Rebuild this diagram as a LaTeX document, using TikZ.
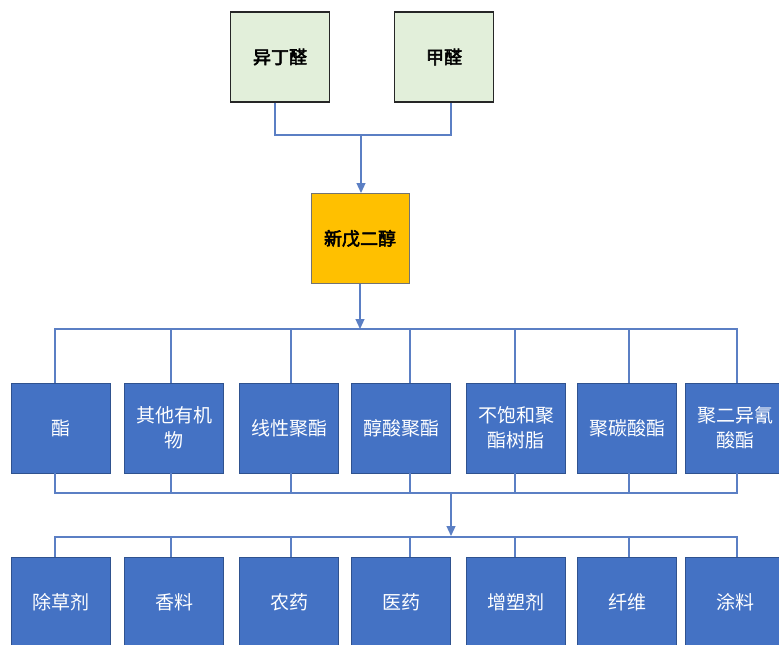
\documentclass[tikz,border=0pt]{standalone}
\usepackage{fontspec}
\newfontfamily\cjk{Noto Sans CJK SC}
\newfontfamily\cjkb[FakeBold=3]{Noto Sans CJK SC}
\usetikzlibrary{arrows.meta}
\definecolor{boxblue}{HTML}{4472C4}
\definecolor{boxedge}{HTML}{2F528F}
\definecolor{lineblue}{HTML}{5B7FC4}
\definecolor{paleg}{HTML}{E2EFDA}
\definecolor{gold}{HTML}{FFC000}
\tikzset{
  srcbox/.style={draw=black!85, line width=1.4pt, fill=paleg, minimum width=99pt, minimum height=90pt, inner sep=0pt, font=\cjkb\fontsize{18}{21}\selectfont},
  midbox/.style={draw=black!55, line width=1pt, fill=gold, minimum width=98pt, minimum height=90pt, inner sep=0pt, font=\cjkb\fontsize{18}{21}\selectfont},
  usebox/.style={draw=boxedge, line width=0.8pt, fill=boxblue, text=white, minimum width=99pt, minimum height=90pt, inner sep=0pt, align=center, font=\cjk\fontsize{19}{25}\selectfont},
  conn/.style={draw=lineblue, line width=1.2pt},
  arr/.style={conn, -{Triangle[width=9pt,length=10pt]}}
}
\begin{document}
\begin{tikzpicture}[x=1pt,y=-1pt]
\useasboundingbox (0,0) rectangle (779,645);
\fill[white] (0,0) rectangle (779,645);
% top sources
\node[srcbox] (a1) at (280,57) {异丁醛};
\node[srcbox] (a2) at (444,57) {甲醛};
\node[midbox] (n) at (360,238.5) {新戊二醇};
% row 2
\node[usebox] (b1) at (61,428) {酯};
\node[usebox] (b2) at (174,428) {其他有机\\物};
\node[usebox] (b3) at (289,428) {线性聚酯};
\node[usebox] (b4) at (401,428) {醇酸聚酯};
\node[usebox] (b5) at (516,428) {不饱和聚\\酯树脂};
\node[usebox] (b6) at (627,428) {聚碳酸酯};
\node[usebox] (b7) at (735,428) {聚二异氰\\酸酯};
% row 3
\node[usebox] (c1) at (61,602) {除草剂};
\node[usebox] (c2) at (174,602) {香料};
\node[usebox] (c3) at (289,602) {农药};
\node[usebox] (c4) at (401,602) {医药};
\node[usebox] (c5) at (516,602) {增塑剂};
\node[usebox] (c6) at (627,602) {纤维};
\node[usebox] (c7) at (735,602) {涂料};
% bus coordinates
\coordinate (t1) at (361,135);
\coordinate (bus1) at (361,329);
\coordinate (bus2) at (451,493);
\coordinate (bus3) at (451,537);
% top merge
\draw[conn] ([xshift=-5pt]a1.south) -- ([xshift=-5pt]a1.south |- t1) -- ([xshift=7pt]a2.south |- t1) -- ([xshift=7pt]a2.south);
\draw[arr] (t1) -- (t1 |- n.north);
% split to row 2
\draw[arr] (n.south) -- (n.south |- bus1);
\draw[conn] ([xshift=-6pt]b1.north) -- ([xshift=-6pt]b1.north |- bus1) -- ([xshift=2pt]b7.north |- bus1) -- ([xshift=2pt]b7.north);
\draw[conn] ([xshift=-3pt]b2.north) -- ([xshift=-3pt]b2.north |- bus1);
\draw[conn] ([xshift=2pt]b3.north) -- ([xshift=2pt]b3.north |- bus1);
\draw[conn] ([xshift=9pt]b4.north) -- ([xshift=9pt]b4.north |- bus1);
\draw[conn] ([xshift=-1pt]b5.north) -- ([xshift=-1pt]b5.north |- bus1);
\draw[conn] ([xshift=2pt]b6.north) -- ([xshift=2pt]b6.north |- bus1);
% merge row 2
\draw[conn] ([xshift=-6pt]b1.south) -- ([xshift=-6pt]b1.south |- bus2) -- ([xshift=2pt]b7.south |- bus2) -- ([xshift=2pt]b7.south);
\draw[conn] ([xshift=-3pt]b2.south) -- ([xshift=-3pt]b2.south |- bus2);
\draw[conn] ([xshift=2pt]b3.south) -- ([xshift=2pt]b3.south |- bus2);
\draw[conn] ([xshift=9pt]b4.south) -- ([xshift=9pt]b4.south |- bus2);
\draw[conn] ([xshift=-1pt]b5.south) -- ([xshift=-1pt]b5.south |- bus2);
\draw[conn] ([xshift=2pt]b6.south) -- ([xshift=2pt]b6.south |- bus2);
\draw[arr] (bus2) -- ([yshift=1pt]bus3);
% split to row 3
\draw[conn] ([xshift=-6pt]c1.north) -- ([xshift=-6pt]c1.north |- bus3) -- ([xshift=2pt]c7.north |- bus3) -- ([xshift=2pt]c7.north);
\draw[conn] ([xshift=-3pt]c2.north) -- ([xshift=-3pt]c2.north |- bus3);
\draw[conn] ([xshift=2pt]c3.north) -- ([xshift=2pt]c3.north |- bus3);
\draw[conn] ([xshift=9pt]c4.north) -- ([xshift=9pt]c4.north |- bus3);
\draw[conn] ([xshift=-1pt]c5.north) -- ([xshift=-1pt]c5.north |- bus3);
\draw[conn] ([xshift=2pt]c6.north) -- ([xshift=2pt]c6.north |- bus3);
\end{tikzpicture}
\end{document}
